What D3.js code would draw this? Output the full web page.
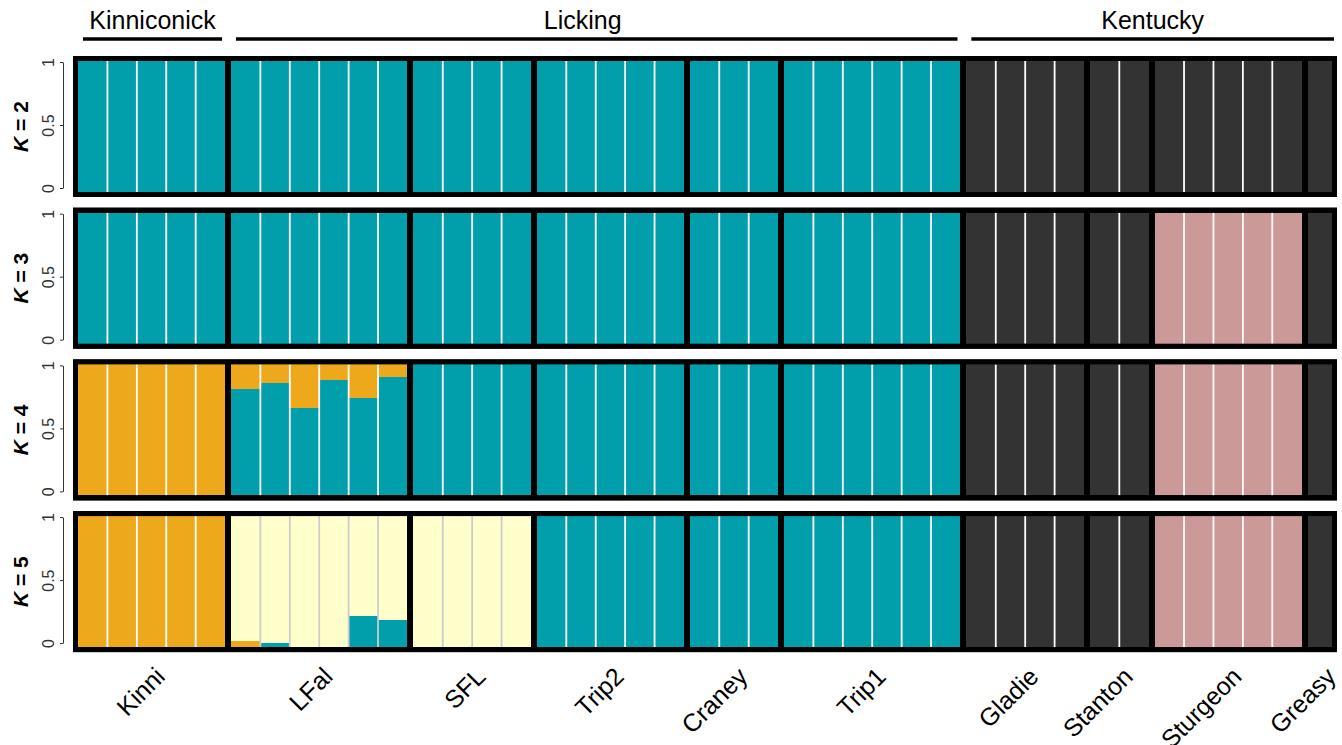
<!DOCTYPE html>
<html>
<head>
<meta charset="utf-8">
<script src="https://cdn.jsdelivr.net/npm/d3@7"></script>
<style>
  body { margin: 0; background: #fff; }
  text { font-family: Arial, 'Liberation Sans', sans-serif; }
</style>
</head>
<body>
<div id="chart"></div>
<script>
// populations and sample sizes, left to right
var populations = ['Kinni', 'LFal', 'SFL', 'Trip2', 'Craney', 'Trip1', 'Gladie', 'Stanton', 'Sturgeon', 'Greasy']
var popSizes = [5, 6, 4, 5, 3, 6, 4, 2, 5, 1]

// drainages across the top
var drainages = ['Kinniconick', 'Licking', 'Kentucky']
var drainagePops = [['Kinni'], ['LFal', 'SFL', 'Trip2', 'Craney', 'Trip1'], ['Gladie', 'Stanton', 'Sturgeon', 'Greasy']]

var kValues = [2, 3, 4, 5]
var clusters = ['teal', 'orange', 'dark', 'pink', 'yellow']
var clusterColors = ['#019fab', '#eea81b', '#333333', '#cc9999', '#ffffcc']
var yTicks = [0, 0.5, 1]

// membership (Q) per individual, 41 individuals in population order
//            Kinni          LFal                          SFL        Trip2      Craney  Trip1        Gladie   Stan Sturgeon  Gr
var k2Teal = [1,1,1,1,1, 1,1,1,1,1,1, 1,1,1,1, 1,1,1,1,1, 1,1,1, 1,1,1,1,1,1, 0,0,0,0, 0,0, 0,0,0,0,0, 0]
var k2Dark = [0,0,0,0,0, 0,0,0,0,0,0, 0,0,0,0, 0,0,0,0,0, 0,0,0, 0,0,0,0,0,0, 1,1,1,1, 1,1, 1,1,1,1,1, 1]

var k3Teal = [1,1,1,1,1, 1,1,1,1,1,1, 1,1,1,1, 1,1,1,1,1, 1,1,1, 1,1,1,1,1,1, 0,0,0,0, 0,0, 0,0,0,0,0, 0]
var k3Dark = [0,0,0,0,0, 0,0,0,0,0,0, 0,0,0,0, 0,0,0,0,0, 0,0,0, 0,0,0,0,0,0, 1,1,1,1, 1,1, 0,0,0,0,0, 1]
var k3Pink = [0,0,0,0,0, 0,0,0,0,0,0, 0,0,0,0, 0,0,0,0,0, 0,0,0, 0,0,0,0,0,0, 0,0,0,0, 0,0, 1,1,1,1,1, 0]

var k4Teal   = [0,0,0,0,0, 0.81,0.86,0.67,0.88,0.74,0.90, 1,1,1,1, 1,1,1,1,1, 1,1,1, 1,1,1,1,1,1, 0,0,0,0, 0,0, 0,0,0,0,0, 0]
var k4Orange = [1,1,1,1,1, 0.19,0.14,0.33,0.12,0.26,0.10, 0,0,0,0, 0,0,0,0,0, 0,0,0, 0,0,0,0,0,0, 0,0,0,0, 0,0, 0,0,0,0,0, 0]
var k4Dark   = [0,0,0,0,0, 0,0,0,0,0,0, 0,0,0,0, 0,0,0,0,0, 0,0,0, 0,0,0,0,0,0, 1,1,1,1, 1,1, 0,0,0,0,0, 1]
var k4Pink   = [0,0,0,0,0, 0,0,0,0,0,0, 0,0,0,0, 0,0,0,0,0, 0,0,0, 0,0,0,0,0,0, 0,0,0,0, 0,0, 1,1,1,1,1, 0]

var k5Teal   = [0,0,0,0,0, 0,0.035,0,0,0.24,0.21, 0,0,0,0, 1,1,1,1,1, 1,1,1, 1,1,1,1,1,1, 0,0,0,0, 0,0, 0,0,0,0,0, 0]
var k5Orange = [1,1,1,1,1, 0.05,0,0,0,0,0, 0,0,0,0, 0,0,0,0,0, 0,0,0, 0,0,0,0,0,0, 0,0,0,0, 0,0, 0,0,0,0,0, 0]
var k5Dark   = [0,0,0,0,0, 0,0,0,0,0,0, 0,0,0,0, 0,0,0,0,0, 0,0,0, 0,0,0,0,0,0, 1,1,1,1, 1,1, 0,0,0,0,0, 1]
var k5Pink   = [0,0,0,0,0, 0,0,0,0,0,0, 0,0,0,0, 0,0,0,0,0, 0,0,0, 0,0,0,0,0,0, 0,0,0,0, 0,0, 1,1,1,1,1, 0]
var k5Yellow = [0,0,0,0,0, 0.95,0.965,1,1,0.76,0.79, 1,1,1,1, 0,0,0,0,0, 0,0,0, 0,0,0,0,0,0, 0,0,0,0, 0,0, 0,0,0,0,0, 0]

var zeros = k2Teal.map(() => 0)
var qByK = {
  2: { teal: k2Teal, orange: zeros, dark: k2Dark, pink: zeros, yellow: zeros },
  3: { teal: k3Teal, orange: zeros, dark: k3Dark, pink: k3Pink, yellow: zeros },
  4: { teal: k4Teal, orange: k4Orange, dark: k4Dark, pink: k4Pink, yellow: zeros },
  5: { teal: k5Teal, orange: k5Orange, dark: k5Dark, pink: k5Pink, yellow: k5Yellow }
}

var width = 1342
var height = 745

var svg = d3.select('#chart')
  .append('svg')
  .attr('width', width)
  .attr('height', height)

// build individuals with a slot position that skips a gap between populations
var gapU = 0.2
var individuals = []
var n = 0
popSizes.forEach(function(size, p) {
  for (var i = 0; i < size; i++) {
    individuals.push({ idx: n, pop: populations[p], popIndex: p, pos: n + p * gapU, first: i === 0 })
    n++
  }
})
var totalUnits = n + (populations.length - 1) * gapU

var xPositionScale = d3.scaleLinear().domain([0, totalUnits]).range([78, 1337])

// panels
var panelTop = d3.scaleLinear().domain([2, 3]).range([61, 212.7])
var panelHeight = 131
var frameLeft = 73
var frameRight = 1337

var colorScale = d3.scaleOrdinal().domain(clusters).range(clusterColors)

function popExtent(name) {
  var members = individuals.filter(d => d.pop === name)
  return [xPositionScale(members[0].pos), xPositionScale(members[members.length - 1].pos + 1)]
}

kValues.forEach(function(k) {
  var top = panelTop(k)
  var g = svg.append('g').attr('transform', 'translate(0,' + top + ')')

  var yPositionScale = d3.scaleLinear().domain([0, 1]).range([panelHeight, 0])

  // black background (gives the population separators)
  g.append('rect')
    .attr('x', frameLeft)
    .attr('y', -5)
    .attr('width', frameRight - frameLeft)
    .attr('height', panelHeight + 10)
    .attr('fill', '#000')

  var rows = individuals.map(function(d) {
    var row = { idx: d.idx, pos: d.pos }
    clusters.forEach(c => { row[c] = qByK[k][c][d.idx] })
    return row
  })
  var stacked = d3.stack().keys(clusters)(rows)

  stacked.forEach(function(layer) {
    g.append('g')
      .selectAll('rect')
      .data(layer.filter(s => s[1] - s[0] > 0))
      .enter()
      .append('rect')
      .attr('x', s => xPositionScale(s.data.pos))
      .attr('width', s => xPositionScale(s.data.pos + 1) - xPositionScale(s.data.pos))
      .attr('y', s => yPositionScale(s[1]))
      .attr('height', s => yPositionScale(s[0]) - yPositionScale(s[1]))
      .attr('fill', colorScale(layer.key))
      .attr('shape-rendering', 'crispEdges')
  })

  // thin separators between individuals inside a population
  g.append('g')
    .selectAll('line')
    .data(individuals.filter(d => !d.first))
    .enter()
    .append('line')
    .attr('x1', d => xPositionScale(d.pos))
    .attr('x2', d => xPositionScale(d.pos))
    .attr('y1', 0)
    .attr('y2', panelHeight)
    .attr('stroke', d => (qByK[k].yellow[d.idx] > 0.5 ? '#cccccc' : '#ffffff'))
    .attr('stroke-width', 1.8)

  // frame
  g.append('rect')
    .attr('x', frameLeft + 2.5)
    .attr('y', -2.5)
    .attr('width', frameRight - frameLeft - 5)
    .attr('height', panelHeight + 5)
    .attr('fill', 'none')
    .attr('stroke', '#000')
    .attr('stroke-width', 5)

  // y axis
  var axisScale = d3.scaleLinear().domain([0, 1]).range([panelHeight - 4, 1])
  var yAxis = d3.axisLeft(axisScale)
    .tickValues(yTicks)
    .tickFormat(d3.format('~g'))
    .tickSize(3)
    .tickSizeOuter(0)
  var axisG = g.append('g')
    .attr('class', 'axis y-axis')
    .attr('transform', 'translate(63,0)')
    .call(yAxis)
  axisG.attr('font-size', 16)
  axisG.select('.domain').attr('stroke', '#333').attr('stroke-width', 1)
  axisG.selectAll('.tick line').attr('stroke', '#333')
  axisG.selectAll('.tick text')
    .attr('x', null)
    .attr('dy', null)
    .attr('transform', 'translate(-9,0) rotate(-90)')
    .attr('text-anchor', 'middle')
    .attr('font-size', '16px')
    .attr('fill', '#333')

  // K label
  var kText = g.append('text')
    .attr('transform', 'translate(28,' + (panelHeight / 2) + ') rotate(-90)')
    .attr('text-anchor', 'middle')
    .attr('font-size', '21px')
    .attr('font-weight', 'bold')
  kText.append('tspan').attr('font-style', 'italic').text('K')
  kText.append('tspan').text(' = ' + k)
})

// drainage headers
drainages.forEach(function(name, i) {
  var pops = drainagePops[i]
  var x0 = popExtent(pops[0])[0] + 5
  var x1 = Math.min(popExtent(pops[pops.length - 1])[1], frameRight) - 3
  svg.append('line')
    .attr('x1', x0)
    .attr('x2', x1)
    .attr('y1', 39)
    .attr('y2', 39)
    .attr('stroke', '#000')
    .attr('stroke-width', 3.5)
  svg.append('text')
    .text(name)
    .attr('x', (x0 + x1) / 2 - (name === 'Licking' ? 14 : 0))
    .attr('y', 29)
    .attr('text-anchor', 'middle')
    .attr('font-size', '25px')
    .attr('fill', '#000')
})

// population labels along the bottom
var bottom = panelTop(5) + panelHeight
svg.append('g')
  .selectAll('text')
  .data(populations)
  .enter()
  .append('text')
  .text(d => d)
  .attr('transform', function(d) {
    var e = popExtent(d)
    var cx = (e[0] + Math.min(e[1], frameRight)) / 2
    return 'translate(' + (cx + 15) + ',' + (bottom + 31) + ') rotate(-45)'
  })
  .attr('text-anchor', 'end')
  .attr('font-size', '25px')
  .attr('fill', '#000')
</script>
</body>
</html>
